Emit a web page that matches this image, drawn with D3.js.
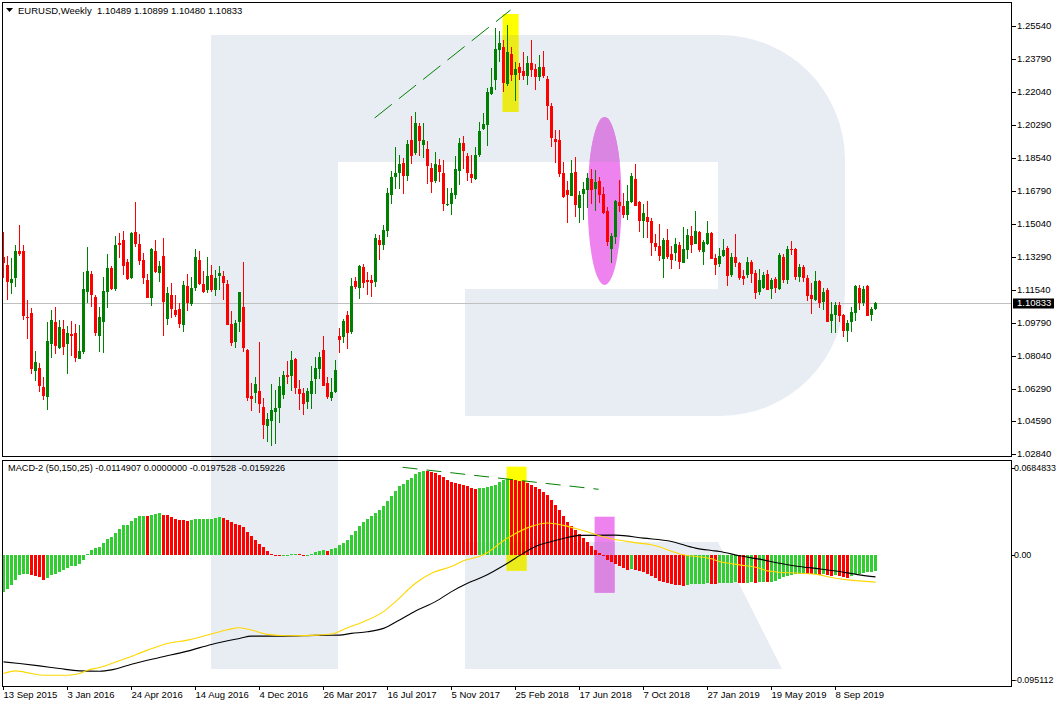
<!DOCTYPE html>
<html><head><meta charset="utf-8">
<script src="https://cdn.jsdelivr.net/npm/d3@7/dist/d3.min.js"></script>
<style>
html,body{margin:0;padding:0;background:#fff;}
svg{display:block;font-family:"Liberation Sans",Arial,sans-serif;}
</style></head><body>
<svg id="c" width="1057" height="707"></svg>
<script>
// ---------------- DATA ----------------
const symbolTitle = "EURUSD,Weekly  1.10489 1.10899 1.10480 1.10833";
const macdTitle = "MACD-2 (50,150,25) -0.0114907 0.0000000 -0.0197528 -0.0159226";
const lastPrice = 1.10833;

const open = [1.13283,1.12841,1.11887,1.12170,1.13584,1.13584,1.10084,1.10296,1.07239,1.07362,1.06373,1.05860,1.08653,1.09819,1.08458,1.09448,1.08670,1.09183,1.09236,1.07875,
1.08228,1.11392,1.12382,1.11145,1.09094,1.09837,1.11427,1.12682,1.11569,1.14026,1.14167,1.13000,1.12152,1.14591,1.13955,1.13106,1.12046,1.11109,1.13584,1.12435,
1.13319,1.09996,1.11251,1.10455,1.10508,1.09678,1.11728,1.10791,1.11639,1.13106,1.11834,1.11533,1.12311,1.11533,1.12276,1.12258,1.11834,1.09713,1.08776,1.09837,
1.10614,1.08352,1.05895,1.06054,1.06160,1.05312,1.04322,1.04587,1.05065,1.05277,1.05966,1.07009,1.06973,1.07857,1.06266,1.06054,1.05595,1.06001,1.06814,1.07345,
1.08334,1.06585,1.05807,1.06107,1.09077,1.09041,1.10190,1.09289,1.11993,1.11637,1.12751,1.12046,1.12046,1.11956,1.14167,1.13902,1.14660,1.16553,1.17507,1.17719,
1.18250,1.17560,1.19453,1.18795,1.20227,1.19204,1.19008,1.18000,1.17295,1.18143,1.17735,1.16039,1.16076,1.16553,1.17841,1.19310,1.18637,1.17682,1.17401,1.18673,
1.20036,1.20264,1.21924,1.22666,1.24241,1.24400,1.22438,1.24029,1.22915,1.23322,1.23128,1.22880,1.23552,1.23216,1.22792,1.23340,1.22686,1.21272,1.19522,1.19469,
1.17720,1.16819,1.16500,1.17773,1.15882,1.16624,1.16819,1.17401,1.16889,1.17295,1.16624,1.15687,1.13708,1.14326,1.16182,1.15970,1.15475,1.16182,1.17401,1.16182,
1.15175,1.15387,1.15175,1.14008,1.13849,1.13177,1.14167,1.13425,1.13496,1.13902,1.12965,1.13637,1.14379,1.13938,1.14573,1.13548,1.13955,1.14555,1.13230,1.12894,
1.13318,1.13760,1.12311,1.13283,1.12947,1.12275,1.12311,1.13000,1.12417,1.11410,1.11639,1.12364,1.11551,1.12099,1.11568,1.13283,1.12046,1.13672,1.13689,1.12222,
1.12735,1.12169,1.11250,1.10985,1.11993,1.10879,1.11516,1.09889,1.10190,1.10720,1.10190,1.09359,1.09801,1.10314,1.11622,1.10808,1.11728,1.10207,1.10489];

const high = [1.14609,1.13336,1.13195,1.13902,1.14962,1.13902,1.10986,1.10579,1.08281,1.07645,1.06885,1.09819,1.10455,1.10614,1.09925,1.09943,1.09607,1.09872,1.09731,1.09678,
1.12488,1.13796,1.12523,1.11233,1.10597,1.12205,1.13425,1.12806,1.14397,1.14538,1.14644,1.13159,1.14591,1.16182,1.14503,1.13478,1.12382,1.13760,1.14185,1.13036,
1.14273,1.11675,1.11887,1.11251,1.10844,1.11993,1.12364,1.12205,1.13690,1.13584,1.12523,1.13265,1.12841,1.12576,1.12788,1.12523,1.12046,1.10402,1.09943,1.11410,
1.13000,1.08405,1.06585,1.06920,1.08776,1.05789,1.05012,1.06532,1.06213,1.06903,1.07239,1.07769,1.08299,1.07928,1.06761,1.06320,1.06320,1.07486,1.07963,1.08228,
1.09077,1.06920,1.06867,1.07804,1.09501,1.09978,1.10402,1.12152,1.12205,1.12841,1.12878,1.12470,1.12295,1.14469,1.14416,1.14946,1.16908,1.17841,1.19114,1.18673,
1.18499,1.19485,1.20742,1.20954,1.20355,1.20370,1.19400,1.18233,1.18833,1.18446,1.18393,1.16908,1.16908,1.18637,1.19591,1.19665,1.18796,1.18658,1.19098,1.20407,
1.20900,1.22226,1.23271,1.25391,1.25264,1.24771,1.25567,1.24416,1.23605,1.23570,1.24135,1.23923,1.24772,1.23499,1.23976,1.24188,1.22863,1.21414,1.20000,1.20000,
1.18320,1.17295,1.18409,1.18586,1.16765,1.17225,1.17737,1.17932,1.17879,1.17525,1.16995,1.15935,1.14521,1.16288,1.17348,1.16641,1.17066,1.17702,1.18197,1.16235,
1.16058,1.16235,1.15351,1.14468,1.15016,1.14256,1.14751,1.13849,1.14291,1.14044,1.14857,1.14733,1.14927,1.15722,1.14644,1.14167,1.15174,1.14591,1.13407,1.13725,
1.14202,1.13848,1.13460,1.14485,1.13018,1.12576,1.13248,1.13106,1.12576,1.12611,1.12488,1.12576,1.12169,1.12187,1.13495,1.13407,1.13848,1.14131,1.13725,1.12912,
1.12841,1.12311,1.11869,1.12541,1.12028,1.11604,1.11604,1.10879,1.10897,1.10879,1.10243,1.09925,1.10597,1.11763,1.11781,1.11728,1.11763,1.10597,1.10899];

const low = [1.12134,1.10986,1.11321,1.11693,1.13336,1.09925,1.08918,1.07044,1.06691,1.06125,1.05683,1.05153,1.07928,1.08105,1.08387,1.08069,1.07080,1.08034,1.07716,1.07857,
1.08105,1.10844,1.10632,1.09094,1.08246,1.08193,1.10544,1.11516,1.11463,1.13230,1.12311,1.12064,1.12117,1.13813,1.12824,1.11816,1.11109,1.10685,1.12399,1.11922,
1.09094,1.09678,1.10049,1.10066,1.09519,1.09306,1.10420,1.10685,1.11463,1.11781,1.11374,1.11374,1.11427,1.11215,1.11516,1.11003,1.09660,1.08564,1.08458,1.09306,
1.08246,1.05648,1.05118,1.05524,1.05012,1.03633,1.03474,1.03227,1.03368,1.04481,1.05754,1.06549,1.06178,1.06019,1.05171,1.04906,1.05224,1.05224,1.06019,1.06814,
1.06426,1.05754,1.05648,1.06072,1.08193,1.08723,1.08388,1.09183,1.11569,1.11054,1.11637,1.11251,1.11161,1.11690,1.13106,1.13621,1.14342,1.16076,1.16887,1.16887,
1.16606,1.17295,1.18197,1.18658,1.18621,1.18515,1.17152,1.16675,1.17173,1.17258,1.15720,1.15970,1.15508,1.16356,1.17083,1.17915,1.17279,1.17173,1.17348,1.18552,
1.19999,1.19151,1.21871,1.22120,1.23605,1.22030,1.22332,1.22597,1.21553,1.22651,1.22651,1.22386,1.22827,1.22120,1.22598,1.22739,1.20530,1.19116,1.18232,1.17525,
1.16376,1.15086,1.16500,1.15404,1.15086,1.15228,1.15882,1.16076,1.15705,1.16111,1.15528,1.13849,1.12965,1.13938,1.15670,1.15334,1.15228,1.16147,1.15988,1.14609,
1.14291,1.14291,1.13336,1.13566,1.13071,1.12135,1.13160,1.12647,1.13054,1.12647,1.12930,1.13160,1.13460,1.13938,1.13548,1.12841,1.13901,1.13141,1.12311,1.12753,
1.13248,1.11745,1.12187,1.12717,1.12046,1.11781,1.12134,1.11869,1.11038,1.11250,1.11551,1.11498,1.11038,1.11339,1.11533,1.11869,1.11816,1.13371,1.12046,1.11922,
1.11922,1.10950,1.10243,1.10950,1.10543,1.10455,1.09801,1.09253,1.09253,1.09836,1.09006,1.08776,1.09271,1.09889,1.10455,1.10667,1.10119,1.09889,1.10480];

const close = [1.12965,1.11958,1.12099,1.13584,1.13425,1.10137,1.10049,1.07327,1.07698,1.06426,1.05913,1.08812,1.09925,1.08564,1.09554,1.08511,1.09218,1.09094,1.07928,1.08281,
1.11569,1.12523,1.11268,1.09254,1.10084,1.11463,1.12682,1.11587,1.13902,1.13919,1.12806,1.12099,1.14538,1.13955,1.13071,1.12170,1.11109,1.13690,1.12488,1.12771,
1.10897,1.11357,1.10491,1.10190,1.09713,1.11781,1.10844,1.11622,1.13265,1.11834,1.11427,1.12258,1.11516,1.12152,1.12417,1.11905,1.09678,1.08723,1.09766,1.11410,
1.08458,1.05807,1.05754,1.06532,1.05489,1.04375,1.04676,1.05153,1.05259,1.06426,1.07009,1.06903,1.07804,1.06337,1.06019,1.05489,1.06160,1.06691,1.07380,1.07963,
1.06443,1.05860,1.06107,1.07274,1.08865,1.09872,1.09236,1.11728,1.11674,1.12788,1.11903,1.11956,1.11903,1.14289,1.13902,1.14697,1.16675,1.17523,1.17719,1.18212,
1.17560,1.19257,1.18636,1.20370,1.19432,1.19469,1.18090,1.17242,1.18196,1.17773,1.16060,1.16092,1.16659,1.17931,1.19310,1.18902,1.17719,1.17470,1.18690,1.19962,
1.20317,1.22014,1.22263,1.24294,1.24612,1.22507,1.24151,1.22931,1.23234,1.23039,1.22880,1.23552,1.23181,1.22827,1.23322,1.22880,1.21290,1.19593,1.19381,1.17667,
1.16465,1.16553,1.17702,1.16023,1.16553,1.16854,1.17437,1.16819,1.17260,1.16536,1.15616,1.14061,1.14379,1.16235,1.15970,1.15493,1.16253,1.17578,1.15988,1.15192,
1.15599,1.15139,1.14026,1.13796,1.13336,1.14167,1.13266,1.13124,1.13938,1.13018,1.13690,1.14432,1.13902,1.14645,1.13636,1.14078,1.14555,1.13159,1.12841,1.13336,
1.13636,1.12275,1.13283,1.12965,1.12169,1.12099,1.13000,1.12364,1.11374,1.12046,1.12311,1.11516,1.12046,1.11604,1.13354,1.12046,1.13689,1.13636,1.12222,1.12735,
1.12169,1.11215,1.11038,1.11993,1.10826,1.11409,1.09836,1.10243,1.10720,1.10155,1.09359,1.09748,1.10367,1.11728,1.10808,1.11568,1.10155,1.10508,1.10833];

const macdHist = [-0.02657,-0.02464,-0.02174,-0.01812,-0.01449,-0.01401,-0.01401,-0.01449,-0.01522,-0.01594,-0.01812,-0.01643,-0.01449,-0.01377,-0.01208,-0.01087,-0.00918,-0.00797,-0.00797,-0.00676,
-0.00362,0.00048,0.00314,0.00483,0.00531,0.00845,0.01135,0.01256,0.01570,0.01884,0.02126,0.02174,0.02464,0.02657,0.02826,0.02826,0.02802,0.02899,0.02971,0.03044,
0.02899,0.02874,0.02705,0.02609,0.02536,0.02512,0.02464,0.02536,0.02609,0.02609,0.02609,0.02609,0.02609,0.02657,0.02705,0.02681,0.02536,0.02367,0.02222,0.02174,
0.01981,0.01643,0.01329,0.01087,0.00773,0.00531,0.00242,0.00072,-0.00072,-0.00097,-0.00048,0.00000,0.00072,0.00072,0.00048,-0.00024,0.00000,0.00072,0.00169,0.00290,
0.00314,0.00290,0.00411,0.00483,0.00676,0.00845,0.01087,0.01449,0.01739,0.02101,0.02343,0.02585,0.02778,0.03019,0.03261,0.03551,0.03913,0.04275,0.04589,0.04952,
0.05121,0.05387,0.05556,0.05870,0.05990,0.06087,0.06063,0.05990,0.05918,0.05797,0.05628,0.05435,0.05266,0.05193,0.05145,0.05073,0.04952,0.04831,0.04783,0.04807,
0.04831,0.04879,0.04952,0.05073,0.05242,0.05435,0.05483,0.05459,0.05411,0.05362,0.05314,0.05193,0.05073,0.04928,0.04759,0.04541,0.04300,0.03986,0.03623,0.03213,
0.02778,0.02343,0.02053,0.01787,0.01522,0.01208,0.00918,0.00604,0.00314,0.00097,-0.00121,-0.00362,-0.00531,-0.00676,-0.00797,-0.00918,-0.01063,-0.01039,-0.01111,-0.01184,
-0.01256,-0.01353,-0.01498,-0.01691,-0.01860,-0.01957,-0.02029,-0.02101,-0.02150,-0.02198,-0.02222,-0.02174,-0.02101,-0.02101,-0.02077,-0.02077,-0.02053,-0.02101,-0.02126,-0.02053,
-0.02029,-0.02029,-0.02005,-0.01981,-0.02029,-0.02053,-0.02005,-0.01981,-0.02005,-0.01981,-0.01932,-0.01981,-0.01932,-0.01884,-0.01739,-0.01618,-0.01498,-0.01425,-0.01377,-0.01353,
-0.01329,-0.01377,-0.01401,-0.01377,-0.01425,-0.01401,-0.01449,-0.01498,-0.01474,-0.01522,-0.01594,-0.01643,-0.01522,-0.01401,-0.01353,-0.01304,-0.01256,-0.01208,-0.01149];

// black line (bar index, value)
const blackIdx = [0,4,9,14,19,24,27,32,39,46,52,59,62,70,78,84,87,91,95,99,103,108,112,116,120,126,130,133,137,141,144,153,160,167,173,177,179,184,189,194,199,204,209,214,218];
const blackVal = [-0.07730,-0.07850,-0.08019,-0.08213,-0.08382,-0.08406,-0.08309,-0.07899,-0.07416,-0.06957,-0.06474,-0.06039,-0.05870,-0.05870,-0.05821,-0.05797,-0.05676,-0.05556,-0.05314,-0.04710,-0.04058,-0.03382,-0.02657,-0.02053,-0.01570,-0.00604,0.00121,0.00604,0.00966,0.01256,0.01401,0.01425,0.01208,0.00966,0.00483,0.00314,0.00242,-0.00072,-0.00314,-0.00604,-0.00845,-0.01015,-0.01208,-0.01449,-0.01592];
// yellow line (bar index, value)
const yellowIdx = [0,3,7,10,16,19,21,24,27,31,36,41,46,51,56,59,62,66,71,79,82,86,90,95,98,103,107,112,115,120,126,132,136,140,145,152,157,162,170,177,179,184,189,191,194,199,204,207,211,214,218];
const yellowVal = [-0.08575,-0.08382,-0.08575,-0.08696,-0.08696,-0.08575,-0.08333,-0.08140,-0.07850,-0.07440,-0.06884,-0.06401,-0.06160,-0.05797,-0.05411,-0.05266,-0.05435,-0.05749,-0.05846,-0.05797,-0.05725,-0.05266,-0.04831,-0.04106,-0.03382,-0.02053,-0.01329,-0.00845,-0.00435,0.00000,0.01208,0.02053,0.02295,0.02126,0.01739,0.01159,0.00918,0.00725,0.00000,-0.00290,-0.00483,-0.00725,-0.00966,-0.01159,-0.01256,-0.01329,-0.01449,-0.01643,-0.01812,-0.01884,-0.01975];

const dateTickIdx = [0,16,32,48,64,80,96,112,128,144,160,176,192,208];
const dateTickLabels = ["13 Sep 2015","3 Jan 2016","24 Apr 2016","14 Aug 2016","4 Dec 2016","26 Mar 2017","16 Jul 2017","5 Nov 2017","25 Feb 2018","17 Jun 2018","7 Oct 2018","27 Jan 2019","19 May 2019","8 Sep 2019"];
const priceTickLabels = ["1.25540","1.23790","1.22040","1.20290","1.18540","1.16790","1.15040","1.13290","1.11540","1.09790","1.08040","1.06290","1.04590","1.02840"];
const macdTickLabels = ["0.0684833","0.00","-0.095112"];

// annotations (in data coordinates: bar index / price / macd value)
const mainTrend = {i: [92.9, 126.9], p: [1.20635, 1.26362]};
const macdTrend = {i: [99.9, 148.9], v: [0.06321, 0.04732]};
const mainYellowBox = {i: [124.9, 128.9], p: [1.26150, 1.20954]};
const macdYellowBox = {i: [125.9, 130.9], v: [0.06365, -0.01147]};
const mainPinkEllipse = {i: 150.4, p: 1.16235, di: 4.25, dp: 0.04454};
const macdPinkBox = {i: [147.9, 152.9], v: [0.02753, -0.02736]};

// ---------------- LAYOUT ----------------
const L = 2, R = 1011.5;
const T1 = 2, B1 = 456.5, T2 = 459.5, B2 = 686;
const n = close.length;

const svg = d3.select("#c");
const x = d3.scaleLinear().domain([0, n - 1]).range([3, 3 + 4 * (n - 1)]);
const pTicks = priceTickLabels.map(Number);
const y = d3.scaleLinear().domain([1.02840, 1.25540]).range([453.6, 25.5]);
const my = d3.scaleLinear().domain([-0.095112, 0.0684833]).range([686.5, 460]);

const defs = svg.append("defs");
defs.append("clipPath").attr("id", "cMain").append("rect").attr("x", L).attr("y", T1).attr("width", R - L).attr("height", B1 - T1);
defs.append("clipPath").attr("id", "cMacd").append("rect").attr("x", L).attr("y", T2).attr("width", R - L).attr("height", B2 - T2);

// watermark (background logo)
const wmPath = "M211,35 H720 A125,125 0 0 1 845,160 V291 A125,125 0 0 1 720,416 H465 V289 H718 V162 H338 V669 H211 Z";
const wmLeg = "M465,542 H718 L782,669 H465 Z";
const wmClip = defs.append("clipPath").attr("id", "cWm");
wmClip.append("path").attr("d", wmPath);
wmClip.append("path").attr("d", wmLeg);
const wmCol = "#e8edf4";
svg.append("path").attr("d", wmPath).attr("fill", wmCol);
svg.append("path").attr("d", wmLeg).attr("fill", wmCol);

// annotation shapes, drawn twice (plain and over the logo)
function drawAnnotations(g, yellowCol, pinkCol) {
  const gm = g.append("g").attr("clip-path", "url(#cMain)");
  gm.append("rect").attr("x", x(mainYellowBox.i[0])).attr("y", y(mainYellowBox.p[0]))
    .attr("width", x(mainYellowBox.i[1]) - x(mainYellowBox.i[0]))
    .attr("height", y(mainYellowBox.p[1]) - y(mainYellowBox.p[0])).attr("fill", yellowCol);
  gm.append("ellipse").attr("cx", x(mainPinkEllipse.i)).attr("cy", y(mainPinkEllipse.p))
    .attr("rx", x(mainPinkEllipse.di) - x(0)).attr("ry", y(mainPinkEllipse.p - mainPinkEllipse.dp) - y(mainPinkEllipse.p))
    .attr("fill", pinkCol);
  const gd = g.append("g").attr("clip-path", "url(#cMacd)");
  gd.append("rect").attr("x", x(macdYellowBox.i[0])).attr("y", my(macdYellowBox.v[0]))
    .attr("width", x(macdYellowBox.i[1]) - x(macdYellowBox.i[0]))
    .attr("height", my(macdYellowBox.v[1]) - my(macdYellowBox.v[0])).attr("fill", yellowCol);
  gd.append("rect").attr("x", x(macdPinkBox.i[0])).attr("y", my(macdPinkBox.v[0]))
    .attr("width", x(macdPinkBox.i[1]) - x(macdPinkBox.i[0]))
    .attr("height", my(macdPinkBox.v[1]) - my(macdPinkBox.v[0])).attr("fill", pinkCol);
}
drawAnnotations(svg.append("g"), "#ffff00", "#ee82ee");
drawAnnotations(svg.append("g").attr("clip-path", "url(#cWm)"), "#ebeb1c", "#da85e1");

// last price line
svg.append("line").attr("x1", L).attr("x2", R).attr("y1", Math.round(y(lastPrice)) + 0.5).attr("y2", Math.round(y(lastPrice)) + 0.5)
  .attr("stroke", "#c0c0c0").attr("stroke-width", 1);

// histogram
const bull = "#008000", bear = "#ff0000";
const gh = svg.append("g").attr("clip-path", "url(#cMacd)").attr("shape-rendering", "crispEdges");
const y0 = Math.round(my(0));
gh.selectAll("rect").data(macdHist).join("rect")
  .attr("x", (d, i) => x(i) - 1).attr("width", 3)
  .attr("y", d => d >= 0 ? Math.round(my(d)) : y0)
  .attr("height", d => Math.max(1, Math.abs(Math.round(my(d)) - y0)))
  .attr("fill", (d, i) => (i === 0 || d >= macdHist[i - 1]) ? "#32cd32" : "#ff0000");

// candles
const gc = svg.append("g").attr("clip-path", "url(#cMain)").attr("shape-rendering", "crispEdges");
const idx = d3.range(n);
gc.selectAll("rect.w").data(idx).join("rect").attr("class", "w")
  .attr("x", i => x(i)).attr("width", 1)
  .attr("y", i => Math.round(y(high[i])))
  .attr("height", i => Math.max(1, Math.round(y(low[i])) - Math.round(y(high[i]))))
  .attr("fill", i => close[i] >= open[i] ? bull : bear);
gc.selectAll("rect.b").data(idx).join("rect").attr("class", "b")
  .attr("x", i => x(i) - 1).attr("width", 3)
  .attr("y", i => Math.round(y(Math.max(open[i], close[i]))))
  .attr("height", i => Math.max(1, Math.round(y(Math.min(open[i], close[i]))) - Math.round(y(Math.max(open[i], close[i])))))
  .attr("fill", i => close[i] >= open[i] ? bull : bear);

// MACD lines
const gl = svg.append("g").attr("clip-path", "url(#cMacd)");
const line = d3.line().x(d => x(d[0]) + 0.5).y(d => my(d[1])).curve(d3.curveMonotoneX);
gl.append("path").attr("d", line(blackIdx.map((v, k) => [v, blackVal[k]])))
  .attr("fill", "none").attr("stroke", "#000").attr("stroke-width", 1.1);
gl.append("path").attr("d", line(yellowIdx.map((v, k) => [v, yellowVal[k]])))
  .attr("fill", "none").attr("stroke", "#ffd700").attr("stroke-width", 1.1);

// trend lines
svg.append("line").attr("clip-path", "url(#cMain)")
  .attr("x1", x(mainTrend.i[0])).attr("y1", y(mainTrend.p[0])).attr("x2", x(mainTrend.i[1])).attr("y2", y(mainTrend.p[1]))
  .attr("stroke", "#008000").attr("stroke-width", 1).attr("stroke-dasharray", "22,9");
svg.append("line").attr("clip-path", "url(#cMacd)")
  .attr("x1", x(macdTrend.i[0])).attr("y1", my(macdTrend.v[0])).attr("x2", x(macdTrend.i[1])).attr("y2", my(macdTrend.v[1]))
  .attr("stroke", "#008000").attr("stroke-width", 1).attr("stroke-dasharray", "15,9");

// borders
const gb = svg.append("g").attr("shape-rendering", "crispEdges").attr("fill", "none").attr("stroke", "#000");
gb.append("rect").attr("x", L + 0.5).attr("y", T1 + 0.5).attr("width", R - L - 0.5).attr("height", B1 - T1 - 0.5);
gb.append("rect").attr("x", L + 0.5).attr("y", T2 + 0.5).attr("width", R - L - 0.5).attr("height", B2 - T2 - 0.5);

// texts
const fs = "9.5px";
svg.append("path").attr("d", "M6,8 L13,8 L9.5,12 Z").attr("fill", "#000");
svg.append("text").attr("x", 18).attr("y", 11).attr("dominant-baseline", "middle")
  .attr("font-size", fs).attr("fill", "#000").style("white-space", "pre").text(symbolTitle);
svg.append("text").attr("x", 8).attr("y", 469).attr("dominant-baseline", "middle")
  .attr("font-size", "9.2px").attr("fill", "#000").text(macdTitle);

// price axis
const gpa = svg.append("g");
priceTickLabels.forEach((lab, k) => {
  const yy = Math.round(y(pTicks[k])) + 0.5;
  gpa.append("line").attr("x1", R).attr("x2", R + 4).attr("y1", yy).attr("y2", yy).attr("stroke", "#000").attr("shape-rendering", "crispEdges");
  gpa.append("text").attr("x", 1017).attr("y", yy).attr("dominant-baseline", "middle").attr("font-size", fs).attr("fill", "#000").text(lab);
});
// last price tag
const ly = y(lastPrice);
gpa.append("rect").attr("x", 1013).attr("y", Math.round(ly) - 4.5).attr("width", 41).attr("height", 10).attr("fill", "#000");
gpa.append("text").attr("x", 1017).attr("y", ly + 0.5).attr("dominant-baseline", "middle").attr("font-size", fs).attr("fill", "#fff").text(lastPrice.toFixed(5));

// macd axis
const macdTickY = [T2 + 8, my(0), B2 - 6];
macdTickLabels.forEach((lab, k) => {
  const yy = Math.round(macdTickY[k]) + 0.5;
  gpa.append("line").attr("x1", R).attr("x2", R + 3).attr("y1", yy).attr("y2", yy).attr("stroke", "#000").attr("shape-rendering", "crispEdges");
  gpa.append("text").attr("x", 1014).attr("y", yy).attr("dominant-baseline", "middle").attr("font-size", "8.9px").attr("fill", "#000").text(lab);
});

// date axis
const gda = svg.append("g");
dateTickIdx.forEach((bi, k) => {
  const xx = x(bi) + 0.5;
  gda.append("line").attr("x1", xx).attr("x2", xx).attr("y1", B2).attr("y2", B2 + 4).attr("stroke", "#000").attr("shape-rendering", "crispEdges");
  gda.append("text").attr("x", xx).attr("y", 695).attr("dominant-baseline", "middle").attr("font-size", fs).attr("fill", "#000").text(dateTickLabels[k]);
});
</script>
</body></html>
